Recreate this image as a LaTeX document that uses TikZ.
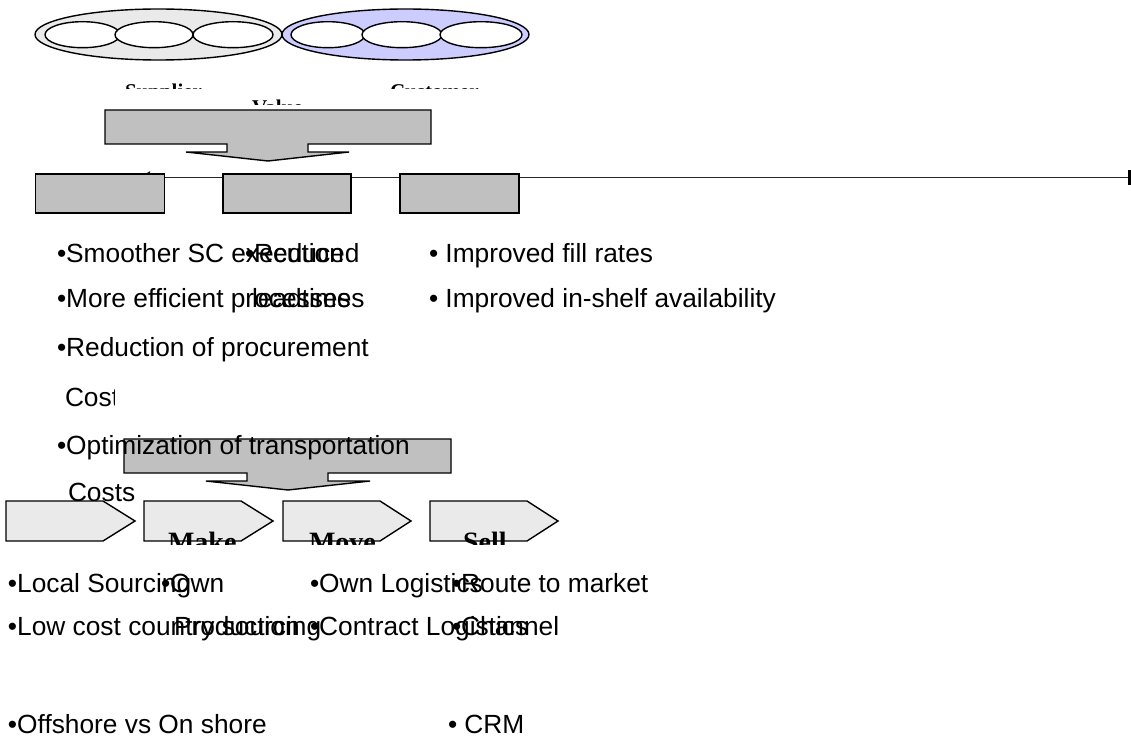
\documentclass[tikz,border=0pt]{standalone}
\usepackage{fontspec}
\setmainfont{Liberation Sans}
\newfontfamily\lblfont{Liberation Serif}
\usetikzlibrary{arrows.meta}
\definecolor{boxgray}{HTML}{C0C0C0}
\definecolor{chevgray}{HTML}{EAEAEA}
\definecolor{ellgray}{HTML}{EAEAEA}
\definecolor{lavender}{HTML}{CCCCFF}
\begin{document}
\begin{tikzpicture}[x=1pt,y=-1pt,
  txt/.style={inner sep=0pt,outer sep=0pt,anchor=base west,font=\fontsize{26.3}{30}\selectfont},
  lbl/.style={inner sep=0pt,outer sep=0pt,anchor=base west,font=\lblfont\bfseries\fontsize{21}{24}\selectfont},
  stagelbl/.style={inner sep=0pt,outer sep=0pt,anchor=base west,font=\lblfont\bfseries\fontsize{28}{32}\selectfont},
  shp/.style={draw=black,line width=1.4pt},
  greybox/.style={shp,fill=boxgray,rectangle,inner sep=0pt,minimum height=39pt},
  chev/.style={shp,fill=chevgray,line join=miter},
  callout/.style={shp,fill=boxgray,line join=miter}
]
\useasboundingbox (0,0) rectangle (1131,738);

% ellipses
\draw[shp,fill=ellgray] (158.5,34.5) ellipse [x radius=123.5pt, y radius=25.5pt];
\draw[shp,fill=lavender] (405.5,34.5) ellipse [x radius=123.5pt, y radius=25.5pt];
\foreach \cx/\rx in {82.5/37.5,154/39,233/40,328/37,402/40,481/41}
  \draw[shp,fill=white] (\cx,34.7) ellipse [x radius=\rx pt, y radius=13pt];

% clipped labels under ellipses
\begin{scope}
  \clip (100,75) rectangle (540,88.8);
  \node[lbl] (sup) at (125,99) {Supplier};
  \node[lbl] (cus) at (390,99) {Customer};
\end{scope}
\begin{scope}
  \clip (240,95) rectangle (300,104.5);
  \node[lbl] (val) at (252,115) {Value};
\end{scope}

% long line with end tips
\coordinate (lineL) at (136,177.5);
\coordinate (lineR) at (1128,177.5);
\draw[line width=1.4pt,draw=black!85,{Latex[length=14pt,width=13pt]}-] (lineL) -- (lineR);
\fill[black] (1127.5,170) rectangle (1131,185);

% grey boxes
\node[greybox,minimum width=129pt] (b1) at (100,193.5) {};
\node[greybox,minimum width=128pt] (b2) at (287,193.5) {};
\node[greybox,minimum width=119pt] (b3) at (459.5,193.5) {};

% callout 1
\draw[callout] (105,110) -- (431,110) -- (431,144) -- (308,144) -- (308,152) -- (349,152)
  -- (268,161) -- (186,152) -- (227,152) -- (227,144) -- (105,144) -- cycle;

% upper text
\node[txt] (l1) at (57,262) {•Smoother SC execution};
\node[txt] (l2) at (57,307) {•More efficient processes};
\node[txt] (l3) at (57,356) {•Reduction of procurement};
\begin{scope}
  \clip (55,380) rectangle (114,415);
  \node[txt] (l4) at (65,406) {Cost};
\end{scope}
\node[txt] (r1) at (245,262) {•Reduced};
\node[txt] (r2) at (252,307) {leadtimes};
\node[txt] (i1) at (429,262) {• Improved fill rates};
\node[txt] (i2) at (429,307) {• Improved in-shelf availability};

% callout 2
\draw[callout] (124,439) -- (451,439) -- (451,473) -- (328,473) -- (328,481) -- (370,481)
  -- (288,490) -- (206,481) -- (247,481) -- (247,473) -- (124,473) -- cycle;
\node[txt] (l5) at (57,454) {•Optimization of transportation};
\node[txt] (l6) at (68,501) {Costs};

% chevrons
\draw[chev] (6,501) -- (103,501) -- (135,521) -- (103,541) -- (6,541) -- cycle;
\draw[chev] (144,501) -- (241,501) -- (273,521) -- (241,541) -- (144,541) -- cycle;
\draw[chev] (283,501) -- (380,501) -- (411,521) -- (380,541) -- (283,541) -- cycle;
\draw[chev] (430,501) -- (527,501) -- (558,521) -- (527,541) -- (430,541) -- cycle;

\begin{scope}
  \clip (140,525) rectangle (570,544.5);
  \node[stagelbl] (mk) at (168,551.5) {Make};
  \node[stagelbl] (mv) at (309,551.5) {Move};
  \node[stagelbl] (sl) at (463,551.5) {Sell};
\end{scope}

% bottom text
\node[txt] (s1) at (8,592) {•Local Sourcing};
\node[txt] (s2) at (8,635) {•Low cost country sourcing};
\node[txt] (s3) at (8,733) {•Offshore vs On shore};
\node[txt] (m1) at (161,592) {•Own};
\node[txt] (m2) at (174,635) {Production};
\node[txt] (v1) at (310,592) {•Own Logistics};
\node[txt] (v2) at (310,635) {•Contract Logistics};
\node[txt] (e1) at (452,592) {•Route to market};
\node[txt] (e2) at (452,635) {•Channel};
\node[txt] (e3) at (448,733) {• CRM};
\end{tikzpicture}
\end{document}
